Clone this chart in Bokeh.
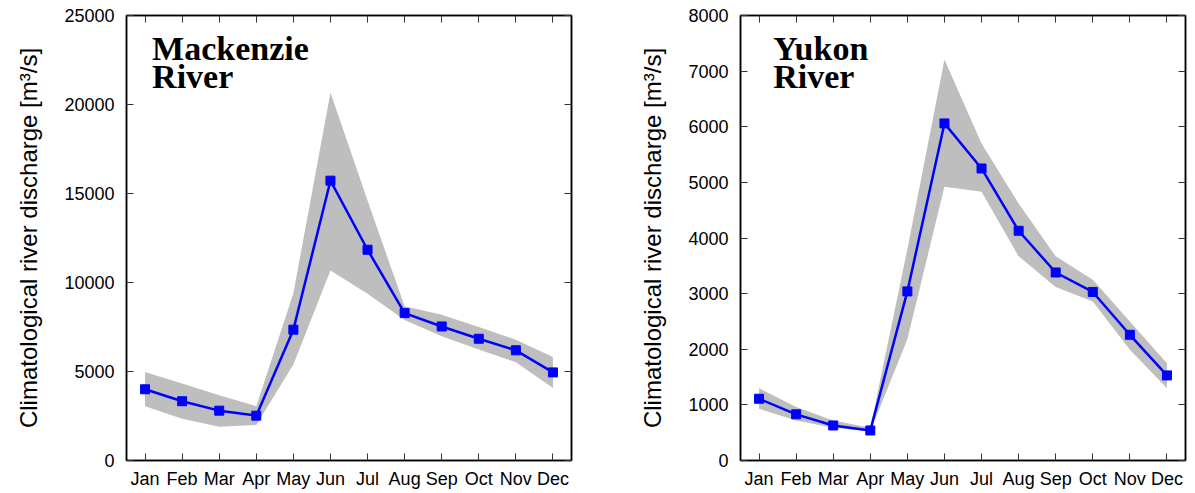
from bokeh.plotting import figure
from bokeh.models import Range1d, FixedTicker, LinearAxis, Label
from bokeh.layouts import row
from bokeh.embed import file_html
from bokeh.resources import INLINE

months = [1, 2, 3, 4, 5, 6, 7, 8, 9, 10, 11, 12]
month_labels = ["Jan", "Feb", "Mar", "Apr", "May", "Jun", "Jul", "Aug", "Sep", "Oct", "Nov", "Dec"]

mack_mean = [4000, 3330, 2800, 2520, 7350, 15720, 11840, 8280, 7530, 6840, 6190, 4950]
mack_hi = [4970, 4320, 3660, 3050, 9400, 20680, 14600, 8660, 8190, 7500, 6790, 5810]
mack_lo = [3050, 2340, 1890, 2000, 5390, 10680, 9370, 7900, 6980, 6230, 5520, 4080]
mack_ticks = [0, 5000, 10000, 15000, 20000, 25000]
mack_title = ["Mackenzie", "River"]

yuk_mean = [1110, 830, 630, 540, 3040, 6060, 5250, 4130, 3380, 3030, 2260, 1530]
yuk_hi = [1300, 960, 720, 590, 3800, 7210, 5700, 4620, 3670, 3250, 2500, 1750]
yuk_lo = [930, 720, 590, 520, 2180, 4920, 4830, 3670, 3120, 2860, 1990, 1300]
yuk_ticks = [0, 1000, 2000, 3000, 4000, 5000, 6000, 7000, 8000]
yuk_title = ["Yukon", "River"]

YLABEL = "Climatological river discharge [m\u00b3/s]"
SANS = "Liberation Sans"


def style_axis(ax, show_labels):
    ax.major_tick_in = 7
    ax.major_tick_out = 0
    ax.minor_tick_line_color = None
    ax.axis_line_color = "black"
    ax.axis_line_width = 1.5
    ax.major_tick_line_color = "#333333"
    ax.major_tick_line_width = 1
    if show_labels:
        ax.major_label_text_font = SANS
        ax.major_label_text_font_size = "18px"
        ax.major_label_text_color = "black"
    else:
        ax.major_label_text_font_size = "0px"
        ax.major_label_text_alpha = 0
        ax.major_label_standoff = 0


def make_panel(mean, lo, hi, ticks, title, width, border_left, border_right, tx):
    ymax = ticks[-1]
    p = figure(width=width, height=491,
               x_range=Range1d(0.5, 12.5), y_range=Range1d(0, ymax),
               output_backend="svg", toolbar_location=None,
               min_border_left=border_left, min_border_right=border_right,
               min_border_top=15, min_border_bottom=30)
    p.grid.visible = False
    p.outline_line_color = "black"
    p.outline_line_width = 1.5
    p.background_fill_color = "white"
    p.border_fill_color = "white"

    p.varea(x=months, y1=lo, y2=hi, fill_color="#bebebe", fill_alpha=1.0)
    p.line(x=months, y=mean, line_color="#0000ff", line_width=2.5)
    p.scatter(x=months, y=mean, marker="square", size=9,
              fill_color="#0000ff", line_color="#0000ff")

    xt = FixedTicker(ticks=months)
    yt = FixedTicker(ticks=ticks)
    overrides = {m: lab for m, lab in zip(months, month_labels)}

    xa = p.xaxis[0]
    xa.ticker = xt
    xa.major_label_overrides = overrides
    xa.major_label_standoff = 8
    style_axis(xa, True)

    ya = p.yaxis[0]
    ya.ticker = yt
    ya.major_label_standoff = 12
    ya.axis_label = YLABEL
    ya.axis_label_text_font = SANS
    ya.axis_label_text_font_size = "24px"
    ya.axis_label_text_font_style = "normal"
    ya.axis_label_text_color = "black"
    ya.axis_label_standoff = 19
    style_axis(ya, True)

    top = LinearAxis(ticker=xt)
    style_axis(top, False)
    p.add_layout(top, "above")
    right = LinearAxis(ticker=yt)
    style_axis(right, False)
    p.add_layout(right, "right")

    for i, line in enumerate(title):
        p.add_layout(Label(x=tx, y=ymax * (0.926 - 0.0628 * i), text=line,
                           text_font="Liberation Serif", text_font_style="bold",
                           text_font_size="34px", text_color="black",
                           text_baseline="alphabetic", text_align="left"))
    return p


p1 = make_panel(mack_mean, mack_lo, mack_hi, mack_ticks, mack_title, 608, 126, 37, 1.19)
p2 = make_panel(yuk_mean, yuk_lo, yuk_hi, yuk_ticks, yuk_title, 586, 132, 9, 1.38)

layout = row(p1, p2)
open("out.html", "w").write(file_html(layout, INLINE))
